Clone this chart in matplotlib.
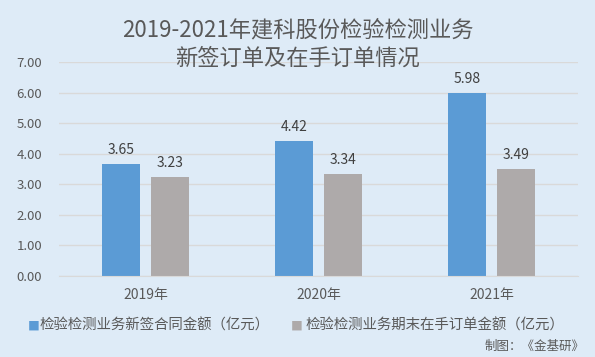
import matplotlib
matplotlib.use("Agg")
import matplotlib.pyplot as plt
import numpy as np

plt.rcParams['font.family'] = ['Noto Sans CJK SC', 'DejaVu Sans']

categories = ['2019年', '2020年', '2021年']
new_contracts = [3.65, 4.42, 5.98]
backlog = [3.23, 3.34, 3.49]
series_names = ['检验检测业务新签合同金额（亿元）', '检验检测业务期末在手订单金额（亿元）']
title = '2019-2021年建科股份检验检测业务\n新签订单及在手订单情况'
source = '制图：《金基研》'
yticks = [0, 1, 2, 3, 4, 5, 6, 7]

bg = '#DEEBF7'
c_blue = '#5B9BD5'
c_gray = '#AEAAAA'
txt = '#595959'

fig = plt.figure(figsize=(5.95, 3.57), dpi=100, facecolor=bg)
ax = fig.add_axes([59/595, 1-276/357, (578-59)/595, (276-62)/357])
ax.set_facecolor(bg)

x = np.arange(len(categories))
w = 0.225
off = 0.1416
b1 = ax.bar(x - off, new_contracts, w, color=c_blue, zorder=3)
b2 = ax.bar(x + off, backlog, w, color=c_gray, zorder=3)
for bars, vals in ((b1, new_contracts), (b2, backlog)):
    for r, v in zip(bars, vals):
        ax.annotate(f'{v:.2f}', (r.get_x() + r.get_width()/2, v), xytext=(0, 5),
                    textcoords='offset points', ha='center', va='bottom',
                    fontsize=10, color='#404040')

ax.set_xlim(-0.5, 2.5)
ax.set_ylim(0, 7)
ax.set_yticks(yticks)
ax.set_yticklabels([f'{t:.2f}' for t in yticks], fontsize=9.5, color=txt)
ax.set_xticks(x)
ax.set_xticklabels(categories, fontsize=10, color=txt)
ax.tick_params(axis='y', length=0, pad=12)
ax.tick_params(axis='x', length=0, pad=9)
ax.grid(axis='y', color='#D9D9D9', linewidth=1, zorder=0)
for s in ['top', 'right', 'left']:
    ax.spines[s].set_visible(False)
ax.spines['bottom'].set_color('#D9D9D9')
ax.spines['bottom'].set_zorder(4)

fig.text(0.5, 1-44/357, title, ha='center', va='center', fontsize=16, color=txt,
         linespacing=1.25)

# legend
fig.text(28/595, 1-326/357, '■', ha='left', va='center', fontsize=8.5, color=c_blue)
fig.text(39/595, 1-326/357, series_names[0], ha='left', va='center', fontsize=10.4, color=txt)
fig.text(291/595, 1-326/357, '■', ha='left', va='center', fontsize=8.5, color=c_gray)
fig.text(305/595, 1-326/357, series_names[1], ha='left', va='center', fontsize=10.4, color=txt)

fig.text(585/595, 1-346/357, source, ha='right', va='center', fontsize=9, color=txt)

fig.savefig('out.png', dpi=100, facecolor=bg)
